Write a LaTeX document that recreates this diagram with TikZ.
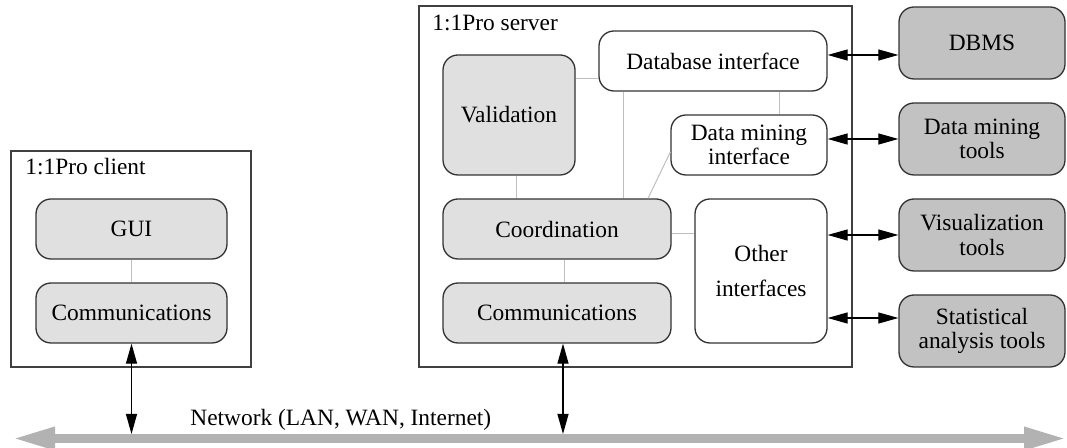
\documentclass[tikz,border=0pt]{standalone}
\usepackage{fontspec}
\setmainfont{Liberation Serif}
\usetikzlibrary{arrows.meta,calc}

\tikzset{
  frame/.style={draw=black!75, line width=0.65pt, inner sep=0pt},
  module/.style={draw=black!80, line width=0.65pt, rounded corners=7.5pt,
                 align=center, inner sep=0pt, fill=black!12},
  iface/.style={module, fill=white},
  extern/.style={module, fill=black!24, minimum width=83pt, minimum height=36pt},
  framelabel/.style={anchor=base west, inner sep=0pt},
  link/.style={draw=black!25, line width=0.5pt},
  dataflow/.style={draw=black, line width=0.6pt,
                   {Triangle[length=10pt,width=5.5pt]}-{Triangle[length=10pt,width=5.5pt]}},
  netline/.style={draw=black!30, line width=4.5pt,
                  {Triangle[length=21.5pt,width=10.5pt]}-{Triangle[length=21.5pt,width=10.5pt]}}
}

\begin{document}
\begin{tikzpicture}[x=0.5pt, y=-0.5pt, font=\fontsize{11.7}{12.2}\selectfont]
\useasboundingbox (0,0) rectangle (1067,448);

% enclosing frames
\node[frame, minimum width=120pt, minimum height=108pt] (client) at (131,259) {};
\node[framelabel] (clientlbl) at (25,175) {1:1Pro client};
\node[frame, minimum width=216.5pt, minimum height=180.5pt] (server) at (635.5,186.5) {};
\node[framelabel] (serverlbl) at (432,31) {1:1Pro server};

% client modules
\node[module, minimum width=95.5pt, minimum height=30pt] (gui) at (131.5,229) {GUI};
\node[module, minimum width=95.5pt, minimum height=30pt] (ccomm) at (131.5,313) {Communications};

% server modules
\node[iface, minimum width=114pt, minimum height=30pt] (dbi) at (713,61) {Database interface};
\node[module, minimum width=66pt, minimum height=60pt] (val) at (509,115) {Validation};
\node[iface, minimum width=78pt, minimum height=30pt] (dmi) at (749,145) {Data mining\\interface};
\node[module, minimum width=114pt, minimum height=30pt] (coord) at (557,229) {Coordination};
\node[module, minimum width=114pt, minimum height=30pt] (scomm) at (557,313) {Communications};
\node[iface, minimum width=66pt, minimum height=72pt] (oth) at (761,271) {Other\\[5.5pt]interfaces};

% external systems
\node[extern] (dbms) at (982,43) {DBMS};
\node[extern] (dmt) at (982,139) {Data mining\\tools};
\node[extern] (vis) at (982,235) {Visualization\\tools};
\node[extern] (stat) at (982,331) {Statistical\\analysis tools};

% internal links
\draw[link] (gui.south) -- (ccomm.north);
\draw[link] ([yshift=18pt]val.east) -- ([yshift=18pt]val.east -| dbi.west);
\draw[link] ([xshift=-45pt]dbi.south) -- ([xshift=-45pt]dbi.south |- coord.north);
\draw[link] ([xshift=33pt]dbi.south) -- ([xshift=33pt]dbi.south |- dmi.north);
\draw[link] ([yshift=-3.5pt]dmi.west) -- ([xshift=45.5pt]coord.north);
\draw[link] ([xshift=3.5pt]val.south) -- ([xshift=3.5pt]val.south |- coord.north);
\draw[link] ([yshift=-2.5pt]coord.east) -- ([yshift=-2.5pt]coord.east -| oth.west);
\draw[link] ([xshift=3.5pt]coord.south) -- ([xshift=3.5pt]coord.south |- scomm.north);

% network backbone
\coordinate (netL) at (12,438.5);
\coordinate (netR) at (1067,438.5);
\coordinate (nettop) at (0,434);
\draw[netline] (netL) -- (netR);
\node[anchor=base west, inner sep=0pt] (netlbl) at (190,426) {Network (LAN, WAN, Internet)};

% data exchange
\draw[dataflow] (ccomm.south) -- (ccomm.south |- nettop);
\draw[dataflow] ([xshift=3pt]scomm.south) -- ([xshift=3pt]scomm.south |- nettop);
\draw[dataflow] ([yshift=3pt]dbi.east) -- ([yshift=3pt]dbi.east -| dbms.west);
\draw[dataflow] ([yshift=3pt]dmi.east) -- ([yshift=3pt]dmi.east -| dmt.west);
\draw[dataflow] (oth.east |- vis.west) -- (vis.west);
\draw[dataflow] ([yshift=-23.5pt]oth.east) -- ([yshift=-23.5pt]oth.east -| stat.west);
\end{tikzpicture}
\end{document}
